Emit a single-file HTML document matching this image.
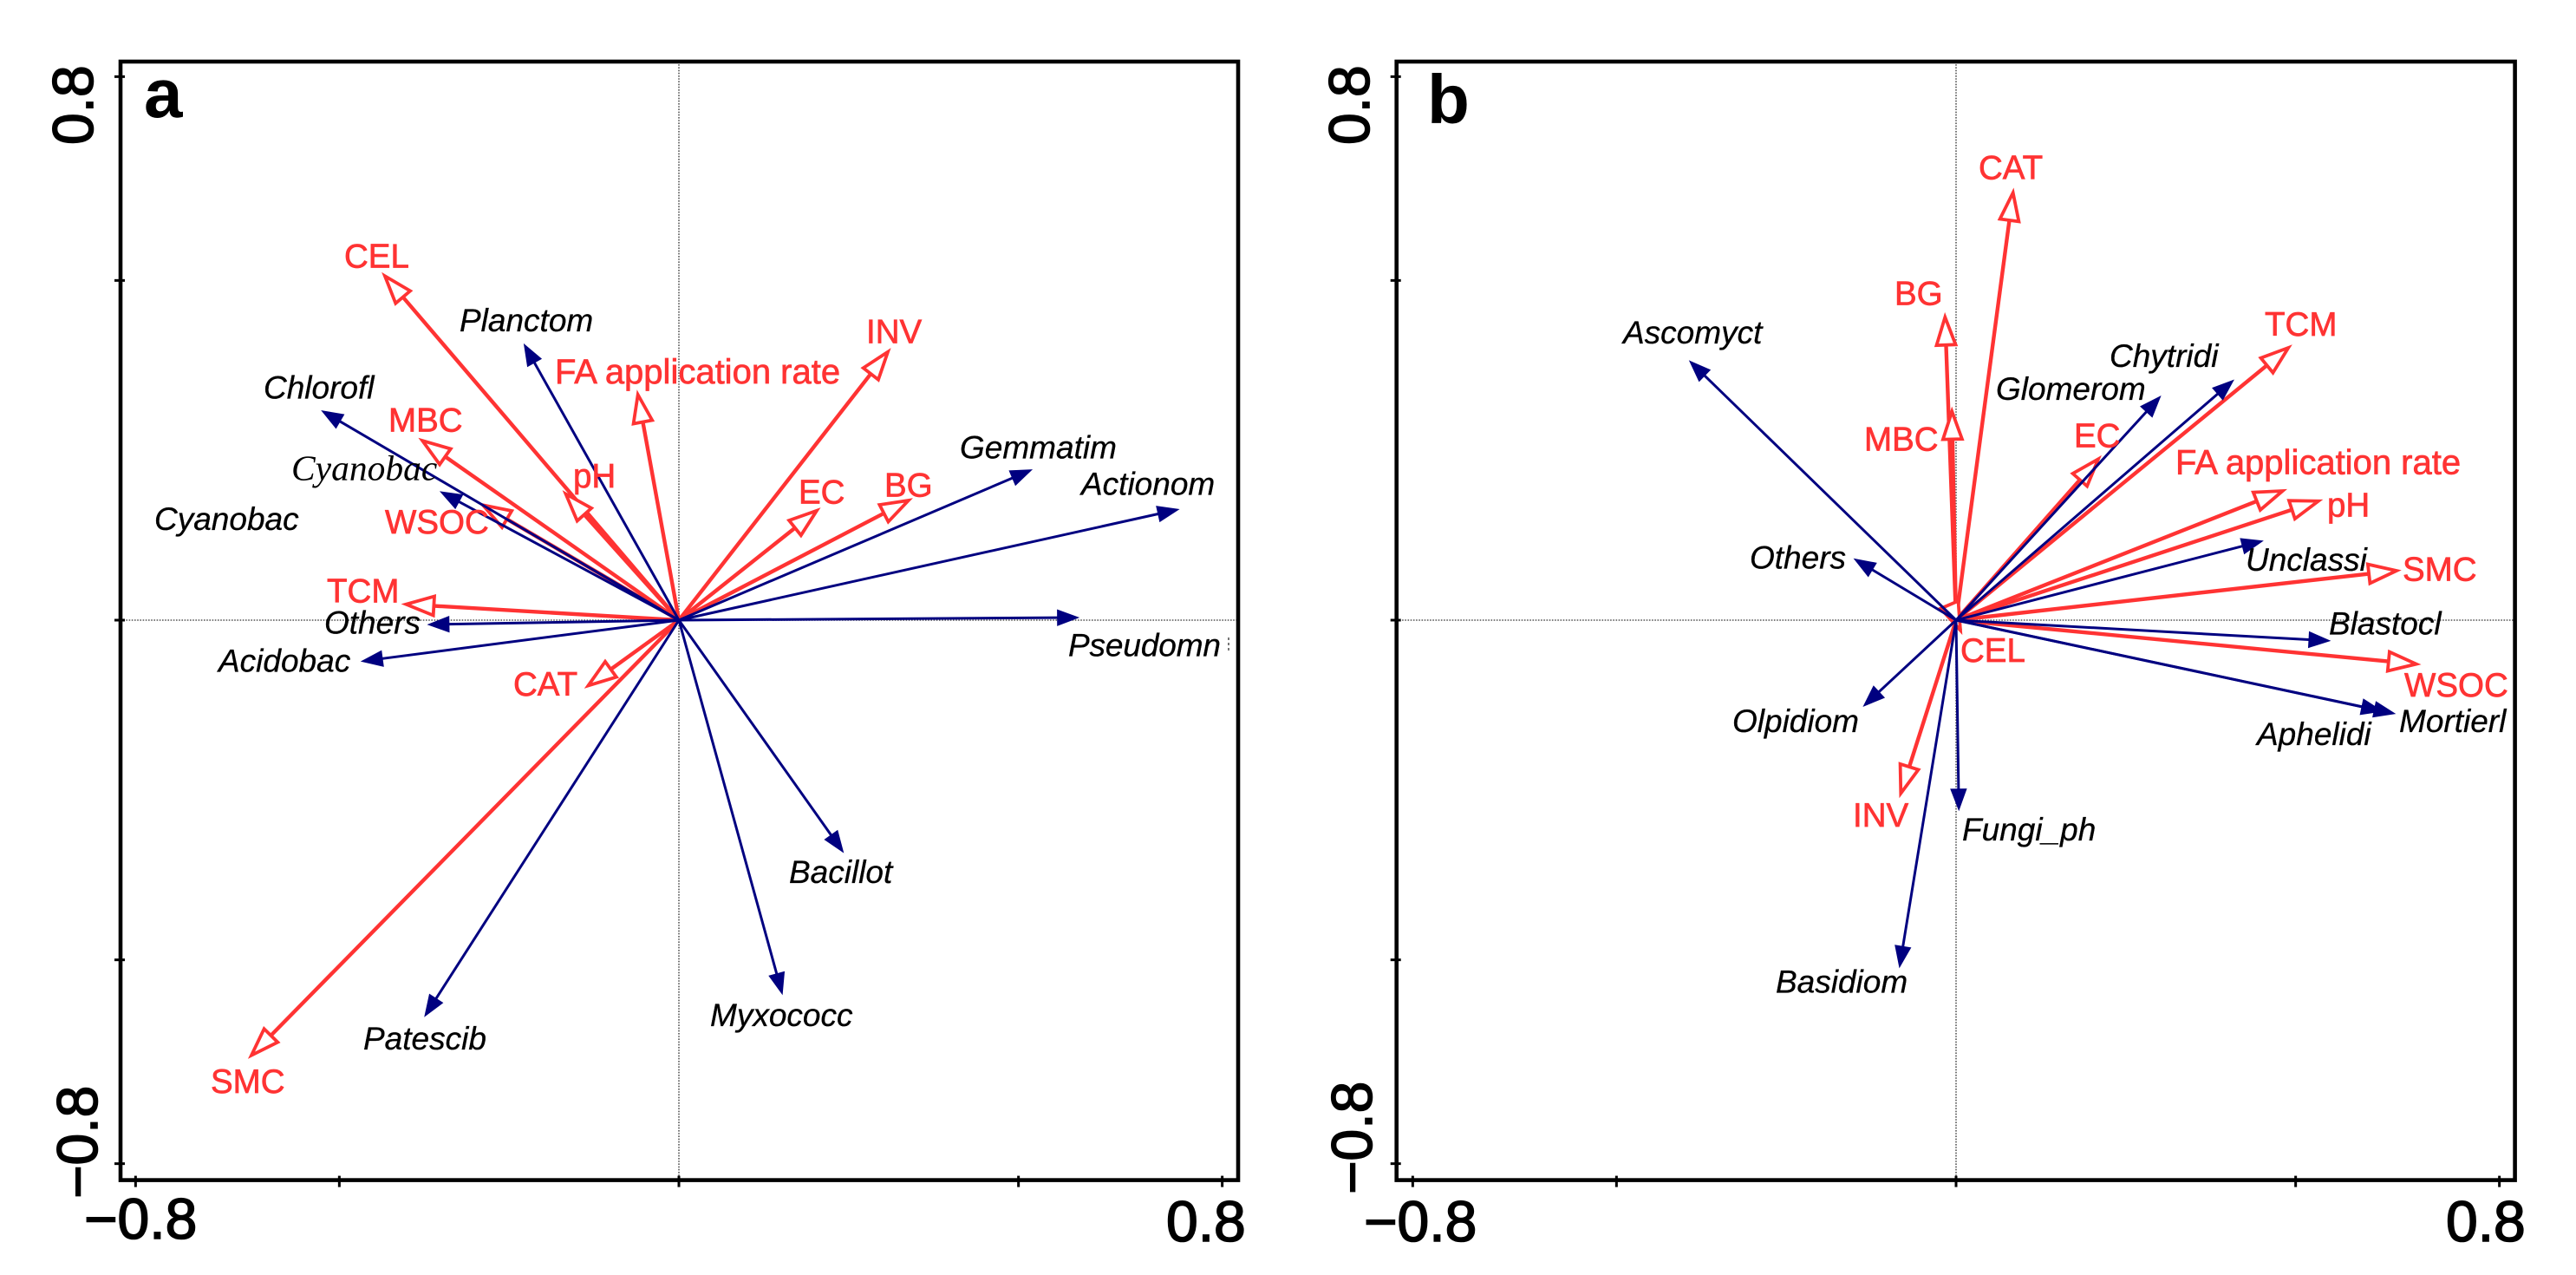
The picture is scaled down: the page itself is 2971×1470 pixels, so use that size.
<!DOCTYPE html>
<html lang="en">
<head>
<meta charset="utf-8">
<title>Redundancy analysis biplots a and b</title>
<style>
html,body{margin:0;padding:0;background:#fff;}
svg{display:block;}
.env{font-family:"Liberation Sans",sans-serif;font-size:38.5px;fill:#ff3333;stroke:#ff3333;stroke-width:0.7px;}
.envlong{font-size:40px;}
.sp{font-family:"Liberation Sans",sans-serif;font-style:italic;font-size:37px;fill:#000;stroke:#000;stroke-width:0.3px;}
.spserif{font-family:"Liberation Serif",serif;font-style:italic;font-size:41.5px;fill:#000;}
.tick{font-family:"Liberation Sans",sans-serif;font-size:66px;fill:#000;stroke:#000;stroke-width:1.6px;}
.panel{font-family:"Liberation Sans",sans-serif;font-weight:bold;font-size:80px;fill:#000;}
</style>
</head>
<body>
<svg id="chart" xmlns="http://www.w3.org/2000/svg" width="2971" height="1470" viewBox="0 0 2971 1470">
  <rect x="0" y="0" width="2971" height="1470" fill="#fff"/>

  <g id="panel-a">
    <g id="a-axes"></g>
    <g id="a-arrows"></g>
    <g>
      <text class="panel" x="166" y="135">a</text>
      <text class="tick" transform="translate(107,167) rotate(-90)">0.8</text>
      <text class="tick" transform="translate(112,1382) rotate(-90)">−0.8</text>
      <text class="tick" x="97" y="1428">−0.8</text>
      <text class="tick" x="1345" y="1431">0.8</text>

      <text class="env" x="397" y="308.6">CEL</text>
      <text class="env envlong" x="640" y="442">FA application rate</text>
      <text class="env" x="448" y="497.6">MBC</text>
      <text class="env" x="661" y="562.2">pH</text>
      <text class="env" x="444" y="614.8">WSOC</text>
      <text class="env" x="377" y="694.7">TCM</text>
      <text class="env" x="592" y="802">CAT</text>
      <text class="env" x="243" y="1260">SMC</text>
      <text class="env" x="999" y="395.7">INV</text>
      <text class="env" x="921" y="580.7">EC</text>
      <text class="env" x="1020" y="572.3">BG</text>

      <text class="sp" x="530" y="381.8">Planctom</text>
      <text class="sp" x="304" y="459.3">Chlorofl</text>
      <text class="spserif" x="336" y="553.6">Cyanobac</text>
      <text class="sp" x="178" y="611">Cyanobac</text>
      <text class="sp" x="374" y="730.6">Others</text>
      <text class="sp" x="252" y="774.7">Acidobac</text>
      <text class="sp" x="419" y="1209.8">Patescib</text>
      <text class="sp" x="1232" y="756.5" textLength="176">Pseudomn</text>
      <line x1="1417" y1="735" x2="1417" y2="752" stroke="#777" stroke-width="2" stroke-dasharray="3 3"/>
      <text class="sp" x="910" y="1017.8">Bacillot</text>
      <text class="sp" x="819" y="1182.8">Myxococc</text>
      <text class="sp" x="1107" y="528.3">Gemmatim</text>
      <text class="sp" x="1247" y="570.7">Actionom</text>
    </g>
  </g>

  <g id="panel-b">
    <g id="b-axes"></g>
    <g id="b-arrows"></g>
    <g>
      <text class="panel" x="1646" y="142">b</text>
      <text class="tick" transform="translate(1579,167) rotate(-90)">0.8</text>
      <text class="tick" transform="translate(1582,1377) rotate(-90)">−0.8</text>
      <text class="tick" x="1573" y="1431">−0.8</text>
      <text class="tick" x="2821" y="1431">0.8</text>

      <text class="env" x="2282" y="206.4">CAT</text>
      <text class="env" x="2185" y="351.5">BG</text>
      <text class="env" x="2150" y="519.4">MBC</text>
      <text class="env" x="2392" y="515.5">EC</text>
      <text class="env" x="2612" y="387">TCM</text>
      <text class="env envlong" x="2509" y="546.4">FA application rate</text>
      <text class="env" x="2684" y="595.5">pH</text>
      <text class="env" x="2771" y="669.6">SMC</text>
      <text class="env" x="2773" y="803">WSOC</text>
      <text class="env" x="2261" y="763">CEL</text>
      <text class="env" x="2137" y="953">INV</text>

      <text class="sp" x="1872" y="396.2">Ascomyct</text>
      <text class="sp" x="2302" y="461">Glomerom</text>
      <text class="sp" x="2433" y="422.8">Chytridi</text>
      <text class="sp" x="2590" y="658">Unclassi</text>
      <text class="sp" x="2686" y="731.7">Blastocl</text>
      <text class="sp" x="2767" y="843.8">Mortierl</text>
      <text class="sp" x="2603" y="859">Aphelidi</text>
      <text class="sp" x="2018" y="655.5">Others</text>
      <text class="sp" x="1998" y="844">Olpidiom</text>
      <text class="sp" x="2263" y="968.8">Fungi_ph</text>
      <text class="sp" x="2048" y="1144.5">Basidiom</text>
    </g>
  </g>
</svg>

<script>
// Tick values shared by both axes of both panels
const tickValues = [-0.8, -0.5, 0, 0.5, 0.8];

// Panel a: environmental factors
const aEnvNames = ['CEL','FA','MBC','pH','WSOC','TCM','CAT','SMC','INV','EC','BG'];
const aEnvX = [-0.4329,-0.0604,-0.3776,-0.1666,-0.2885,-0.4016,-0.1334,-0.6294,0.3077,0.2030,0.3381];
const aEnvY = [0.5066,0.3319,0.2641,0.1858,0.1694,0.0234,-0.0963,-0.6405,0.3949,0.1612,0.1762];

// Panel a: bacterial phyla
const aTaxaNames = ['Planctom','Chlorofl','Cyanobac','Others','Acidobac','Patescib','Pseudomn','Bacillot','Myxococc','Gemmatim','Actionom'];
const aTaxaX = [-0.2278,-0.5255,-0.3508,-0.3691,-0.4670,-0.3741,0.5881,0.2419,0.1522,0.5193,0.7356];
const aTaxaY = [0.4058,0.3081,0.1889,-0.0065,-0.0605,-0.5828,0.0038,-0.3414,-0.5502,0.2212,0.1630];

// Panel b: environmental factors
const bEnvNames = ['CAT','BG','MBC','EC','TCM','FA','pH','SMC','WSOC','INV','CEL'];
const bEnvX = [0.0839,-0.0162,-0.0060,0.2094,0.4893,0.4808,0.5334,0.6485,0.6775,-0.0813,0.0064];
const bEnvY = [0.6291,0.4459,0.3072,0.2371,0.4010,0.1902,0.1753,0.0728,-0.0646,-0.2548,-0.0149];

// Panel b: fungal phyla
const bTaxaNames = ['Ascomyct','Others','Olpidiom','Basidiom','Fungi_ph','Glomerom','Chytridi','Unclassi','Blastocl','Aphelidi','Mortierl'];
const bTaxaX = [-0.3922,-0.1496,-0.1360,-0.0832,0.0041,0.3009,0.4084,0.4513,0.5502,0.6275,0.6460];
const bTaxaY = [0.3813,0.0900,-0.1264,-0.5107,-0.2793,0.3294,0.3531,0.1166,-0.0304,-0.1340,-0.1376];

const SVG_NS = 'http://www.w3.org/2000/svg';
const UNIT = 783.3;
const ORIGIN_Y = 715;
const FRAME_TOP = 71;
const FRAME_BOTTOM = 1360.6;

function scaleX(originX) { return v => originX + v * UNIT; }
function scaleY(originY) { return v => originY - v * UNIT; }

function make(tag, attrs) {
  const el = document.createElementNS(SVG_NS, tag);
  for (const k in attrs) el.setAttribute(k, attrs[k]);
  return el;
}

function drawAxes(group, prefix, left, right, sx, sy) {
  const zeroH = make('line', {x1:left, x2:right, y1:sy(0), y2:sy(0), stroke:'#555', 'stroke-width':1.6, 'stroke-dasharray':'1.6 1.6'});
  
  
  group.appendChild(zeroH);

  const zeroV = make('line', {x1:sx(0), x2:sx(0), y1:FRAME_TOP, y2:FRAME_BOTTOM, stroke:'#555', 'stroke-width':1.6, 'stroke-dasharray':'1.6 1.6'});
  
  
  group.appendChild(zeroV);

  const frame = make('rect', {x:left, y:FRAME_TOP, width:right-left, height:FRAME_BOTTOM-FRAME_TOP, fill:'none', stroke:'#000', 'stroke-width':4.6});
  
  
  group.appendChild(frame);

  tickValues.forEach(v => {
    const ty = make('line', {x1:left-7, x2:left+5, y1:sy(v), y2:sy(v), stroke:'#000', 'stroke-width':3});
    
    
    group.appendChild(ty);

    const tx = make('line', {x1:sx(v), x2:sx(v), y1:FRAME_BOTTOM-5, y2:FRAME_BOTTOM+8, stroke:'#000', 'stroke-width':3});
    
    
    group.appendChild(tx);
  });
}

function drawArrow(group, prefix, name, vx, vy, sx, sy, style) {
  const x0 = sx(0), y0 = sy(0);
  const x1 = sx(vx), y1 = sy(vy);
  const dx = x1 - x0, dy = y1 - y0;
  const len = Math.hypot(dx, dy) || 1;
  const ux = dx / len, uy = dy / len;
  const bx = x1 - ux * style.headLength, by = y1 - uy * style.headLength;
  const px = -uy * style.headWidth / 2, py = ux * style.headWidth / 2;

  if (len > style.headLength) {
    const shaft = make('line', {x1:x0, y1:y0, x2:bx, y2:by, stroke:style.color, 'stroke-width':style.lineWidth});
    
    
    group.appendChild(shaft);
  } else {
    const stub = make('line', {x1:x0, y1:y0, x2:x1, y2:y1, stroke:style.color, 'stroke-width':style.lineWidth});
    
    
    group.appendChild(stub);
  }

  const pts = [[x1,y1],[bx+px,by+py],[bx-px,by-py]].map(p => p[0].toFixed(1) + ',' + p[1].toFixed(1)).join(' ');
  const head = make('polygon', {points:pts, fill:style.fill, stroke:style.color, 'stroke-width':style.headStroke, 'stroke-linejoin':'miter'});
  
  
  group.appendChild(head);
}

const envStyle = {color:'#ff3333', fill:'#ffffff', lineWidth:4.4, headLength:32, headWidth:22, headStroke:3.8};
const taxaStyle = {color:'#000080', fill:'#000080', lineWidth:3, headLength:24, headWidth:18, headStroke:1};

function drawPanel(prefix, originX, left, right, envNames, envX, envY, taxaNames, taxaX, taxaY) {
  const sx = scaleX(originX), sy = scaleY(ORIGIN_Y);
  drawAxes(document.getElementById(prefix + '-axes'), prefix, left, right, sx, sy);
  const arrows = document.getElementById(prefix + '-arrows');
  envNames.forEach((n, i) => drawArrow(arrows, prefix + '-env', n, envX[i], envY[i], sx, sy, envStyle));
  taxaNames.forEach((n, i) => drawArrow(arrows, prefix + '-taxon', n, taxaX[i], taxaY[i], sx, sy, taxaStyle));
}

drawPanel('a', 783, 139, 1428, aEnvNames, aEnvX, aEnvY, aTaxaNames, aTaxaX, aTaxaY);
drawPanel('b', 2256, 1610.7, 2900.6, bEnvNames, bEnvX, bEnvY, bTaxaNames, bTaxaX, bTaxaY);
</script>
</body>
</html>
